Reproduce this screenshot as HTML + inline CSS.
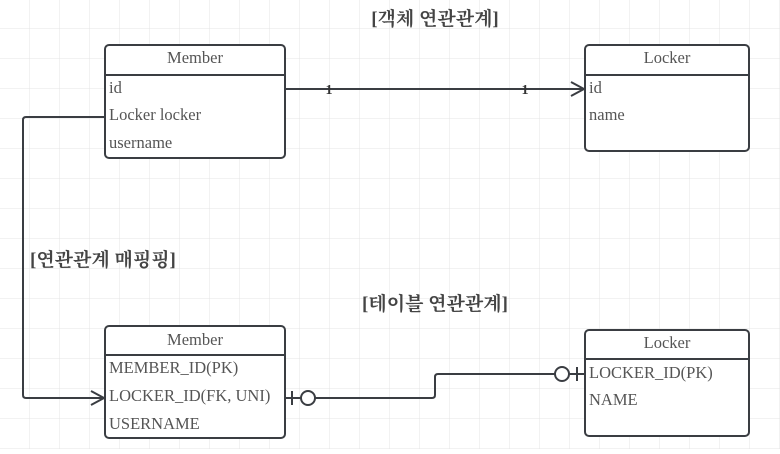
<!DOCTYPE html>
<html><head><meta charset="utf-8"><style>
body{margin:0;width:780px;height:449px;overflow:hidden;background:#fff;}
svg text{font-family:"Liberation Serif","Noto Serif CJK SC",serif;fill:#555;}
.t{font-family:"Liberation Serif","Noto Serif CJK KR","Noto Serif CJK SC",serif;font-weight:bold;font-size:19px;fill:#444;}
</style></head><body>
<svg width="780" height="449" xmlns="http://www.w3.org/2000/svg">
<defs><pattern id="g" width="30" height="30" patternUnits="userSpaceOnUse" x="0" y="-1"><path d="M30 0V30M0 30H30" stroke="#e4e4e4" stroke-width="1" fill="none"/></pattern></defs>
<rect width="780" height="449" fill="url(#g)"/>
<g stroke="#3a3d42" stroke-width="2" fill="none">
<rect x="105" y="45" width="180" height="113" rx="4" fill="#fff"/><line x1="105" y1="75" x2="285" y2="75"/>
<rect x="585" y="45" width="164" height="106" rx="4" fill="#fff"/><line x1="585" y1="75" x2="749" y2="75"/>
<rect x="105" y="326" width="180" height="112" rx="4" fill="#fff"/><line x1="105" y1="355" x2="285" y2="355"/>
<rect x="585" y="330" width="164" height="106" rx="4" fill="#fff"/><line x1="585" y1="359" x2="749" y2="359"/>
<path d="M285 89H584M571 82L584 89L571 96"/>
<path d="M105 117H26Q23 117 23 120V395Q23 398 26 398H104M91 391L104 398L91 405"/>
<path d="M285 398H301M292 391V405M315 398H432Q435 398 435 395V377Q435 374 438 374H555M577 367V381M569 374H585"/>
<circle cx="308" cy="398" r="7" fill="#fff"/><circle cx="562" cy="374" r="7" fill="#fff"/>
</g>
<g font-size="16.5">
<text x="195" y="63" text-anchor="middle">Member</text>
<text x="109" y="93">id</text><text x="109" y="120">Locker locker</text><text x="109" y="148">username</text>
<text x="667" y="63" text-anchor="middle">Locker</text>
<text x="589" y="93">id</text><text x="589" y="120">name</text>
<text x="195" y="345" text-anchor="middle">Member</text>
<text x="109" y="373">MEMBER_ID(PK)</text><text x="109" y="401">LOCKER_ID(FK, UNI)</text><text x="109" y="429">USERNAME</text>
<text x="667" y="348" text-anchor="middle">Locker</text>
<text x="589" y="378">LOCKER_ID(PK)</text><text x="589" y="405">NAME</text>
<text x="329" y="94" text-anchor="middle" font-weight="bold" font-size="14" style="fill:#333">1</text>
<text x="525" y="94" text-anchor="middle" font-weight="bold" font-size="14" style="fill:#333">1</text>
</g>
<text class="t" x="435" y="25" text-anchor="middle">[객체 연관관계]</text>
<text class="t" x="30" y="266">[연관관계 매핑핑]</text>
<text class="t" x="435" y="310" text-anchor="middle">[테이블 연관관계]</text>
</svg>
</body></html>
